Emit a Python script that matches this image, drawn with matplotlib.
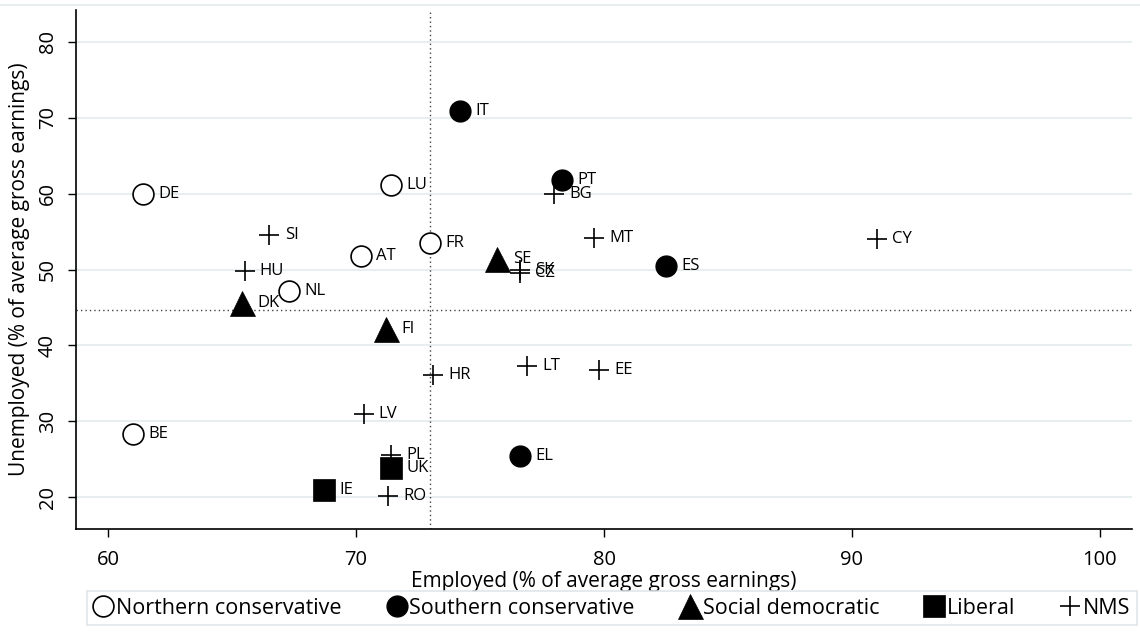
import matplotlib.pyplot as plt
from matplotlib.lines import Line2D

# --- data ---
countries = ['DE', 'LU', 'AT', 'NL', 'FR', 'BE',
             'IT', 'PT', 'ES', 'EL',
             'SE', 'DK', 'FI',
             'UK', 'IE',
             'SI', 'HU', 'BG', 'MT', 'CY', 'SK', 'CZ', 'HR', 'LT', 'EE', 'LV', 'PL', 'RO']
employed = [61.4, 71.4, 70.2, 67.3, 73.0, 61.0,
            74.2, 78.3, 82.5, 76.6,
            75.7, 65.4, 71.2,
            71.4, 68.7,
            66.5, 65.5, 78.0, 79.6, 91.0, 76.6, 76.6, 73.1, 76.9, 79.8, 70.3, 71.4, 71.3]
unemployed = [59.9, 61.1, 51.8, 47.2, 53.5, 28.3,
              70.9, 61.8, 50.5, 25.4,
              51.4, 45.6, 42.1,
              23.9, 20.9,
              54.5, 49.8, 59.9, 54.1, 54.0, 50.0, 49.6, 36.1, 37.3, 36.8, 30.9, 25.6, 20.2]
regime = ['north'] * 6 + ['south'] * 4 + ['socdem'] * 3 + ['liberal'] * 2 + ['nms'] * 13

regime_names = {'north': 'Northern conservative', 'south': 'Southern conservative',
                'socdem': 'Social democratic', 'liberal': 'Liberal', 'nms': 'NMS'}
mean_employed = 73.0
mean_unemployed = 44.7

x_ticks = [60, 70, 80, 90, 100]
y_ticks = [20, 30, 40, 50, 60, 70, 80]

# --- marker styles per regime ---
styles = {
    'north': dict(marker='o', ms=15, mfc='white', mec='black', mew=1.2),
    'south': dict(marker='o', ms=15, mfc='black', mec='black', mew=1.0),
    'socdem': dict(marker='^', ms=18, mfc='black', mec='black', mew=0.5),
    'liberal': dict(marker='s', ms=15.5, mfc='black', mec='black', mew=0.5),
    'nms': dict(marker='+', ms=15, mec='black', mew=1.2),
}

font = ['Open Sans', 'DejaVu Sans']
plt.rcParams['font.family'] = font

fig = plt.figure(figsize=(11.4, 6.35), dpi=100)
ax = fig.add_axes([76 / 1140, 1 - 529 / 635, (1132 - 76) / 1140, (529 - 10) / 635])

ax.set_xlim(58.7, 101.3)
ax.set_ylim(15.8, 84.2)

# light grid on y only
for yt in y_ticks:
    ax.axhline(yt, color='#e6eef0', lw=1.4, zorder=0)

# mean lines
ax.axvline(mean_employed, color='#444444', lw=1.0, ls=(0, (1, 2.2)), zorder=1)
ax.axhline(mean_unemployed, color='#444444', lw=1.0, ls=(0, (1, 2.2)), zorder=1)

for c, x, y, r in zip(countries, employed, unemployed, regime):
    ax.plot([x], [y], ls='none', zorder=3, **styles[r])
    ax.annotate(c, (x, y), xytext=(11, 0), textcoords='offset points',
                va='center', ha='left', fontsize=12, zorder=4)

for s in ['top', 'right']:
    ax.spines[s].set_visible(False)
for s in ['left', 'bottom']:
    ax.spines[s].set_linewidth(1.2)

ax.set_xticks(x_ticks)
ax.set_yticks(y_ticks)
ax.tick_params(axis='both', length=6, width=1.0, labelsize=14.5)
ax.tick_params(axis='x', pad=9)
ax.tick_params(axis='y', pad=7)
for lab in ax.get_yticklabels():
    lab.set_rotation(90)
    lab.set_va('center')

ax.set_xlabel('Employed (% of average gross earnings)', fontsize=15, labelpad=1)
ax.set_ylabel('Unemployed (% of average gross earnings)', fontsize=15, labelpad=6)

# faint frame line at the very top
fig.add_artist(Line2D([0, 1], [1 - 5 / 635, 1 - 5 / 635], color='#e6eef0', lw=1.4))

# legend
keys = ['north', 'south', 'socdem', 'liberal', 'nms']
handles = [Line2D([], [], ls='none', **styles[k]) for k in keys]
leg = fig.legend(handles, [regime_names[k] for k in keys],
                 loc='center', bbox_to_anchor=(612 / 1140, 1 - 608 / 635), ncol=5,
                 fontsize=15.5, frameon=True, fancybox=False, handlelength=0.9,
                 handletextpad=0.15, columnspacing=2.1, borderpad=0.3,
                 borderaxespad=0)
leg.get_frame().set_edgecolor('#dde5e8')
leg.get_frame().set_linewidth(1.4)

fig.savefig('out.png', dpi=100)
